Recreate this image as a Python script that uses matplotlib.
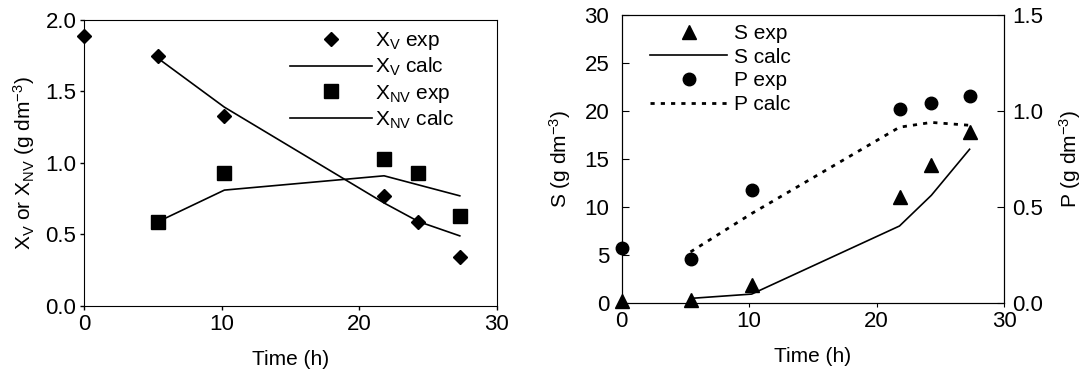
import matplotlib
matplotlib.use("Agg")
import matplotlib.pyplot as plt

plt.rcParams['font.family'] = ['Liberation Sans', 'DejaVu Sans']
plt.rcParams['mathtext.default'] = 'regular'
plt.rcParams['font.size'] = 15

# left panel: viable / non-viable biomass
t_xv_exp = [0, 5.4, 10.2, 21.8, 24.3, 27.3]
xv_exp = [1.89, 1.75, 1.33, 0.77, 0.59, 0.34]
t_xv_calc = [5.4, 10.2, 21.8, 24.3, 27.3]
xv_calc = [1.73, 1.39, 0.72, 0.59, 0.49]
t_xnv_exp = [5.4, 10.2, 21.8, 24.3, 27.3]
xnv_exp = [0.59, 0.93, 1.03, 0.93, 0.63]
t_xnv_calc = [5.4, 10.2, 21.8, 27.3]
xnv_calc = [0.59, 0.81, 0.91, 0.77]

# right panel: substrate and product
t_s_exp = [0, 5.4, 10.2, 21.8, 24.3, 27.3]
s_exp = [0.2, 0.3, 1.8, 11.0, 14.4, 17.8]
t_s_calc = [5.4, 10.2, 21.8, 24.3, 27.3]
s_calc = [0.45, 0.9, 8.0, 11.2, 16.0]
t_p_exp = [0, 5.4, 10.2, 21.8, 24.3, 27.3]
p_exp = [0.285, 0.23, 0.59, 1.01, 1.04, 1.08]
t_p_calc = [5.4, 10.2, 21.8, 24.3, 27.3]
p_calc = [0.265, 0.465, 0.915, 0.94, 0.925]

fig = plt.figure(figsize=(10.82, 3.74), dpi=100)

ax1 = fig.add_axes([0.0776, 0.182, 0.3817, 0.7647])
ax1.plot(t_xv_exp, xv_exp, 'D', color='black', ms=7.5, ls='none',
         label='X$_V$ exp', clip_on=False)
ax1.plot(t_xv_calc, xv_calc, '-', color='black', lw=1.2, label='X$_V$ calc')
ax1.plot(t_xnv_exp, xnv_exp, 's', color='black', ms=9.5, ls='none',
         label='X$_{NV}$ exp', clip_on=False)
ax1.plot(t_xnv_calc, xnv_calc, '-', color='black', lw=1.2, label='X$_{NV}$ calc')
ax1.set_xlim(0, 30)
ax1.set_ylim(0, 2.0)
ax1.set_xticks([0, 10, 20, 30])
ax1.set_yticks([0, 0.5, 1.0, 1.5, 2.0])
ax1.set_yticklabels(['0.0', '0.5', '1.0', '1.5', '2.0'])
ax1.tick_params(direction='out', length=3, width=1, pad=2.5, labelsize=16)
ax1.set_xlabel('Time (h)', fontsize=15, labelpad=11)
ax1.set_ylabel('X$_V$ or X$_{NV}$ (g dm$^{-3}$)', fontsize=15, labelpad=6)
ax1.legend(loc='upper left', frameon=False, handlelength=3.9,
           labelspacing=0.2, handletextpad=0.15, fontsize=15,
           bbox_to_anchor=(0.50, 0.965), borderaxespad=0, borderpad=0)

ax2 = fig.add_axes([0.5746, 0.1906, 0.3533, 0.7693])
ax3 = ax2.twinx()
l1, = ax2.plot(t_s_exp, s_exp, '^', color='black', ms=9.5, ls='none',
               label='S exp', clip_on=False)
l2, = ax2.plot(t_s_calc, s_calc, '-', color='black', lw=1.2, label='S calc')
l3, = ax3.plot(t_p_exp, p_exp, 'o', color='black', ms=9, ls='none',
               label='P exp', clip_on=False)
l4, = ax3.plot(t_p_calc, p_calc, color='black', lw=2, ls=(0, (1.5, 2.2)),
               label='P calc')
ax2.set_xlim(0, 30)
ax2.set_ylim(0, 30)
ax3.set_ylim(0, 1.5)
ax2.set_xticks([0, 10, 20, 30])
ax2.set_yticks([0, 5, 10, 15, 20, 25, 30])
ax3.set_yticks([0, 0.5, 1.0, 1.5])
ax3.set_yticklabels(['0.0', '0.5', '1.0', '1.5'])
ax2.tick_params(axis='x', direction='out', length=3, pad=3, labelsize=16)
ax2.tick_params(axis='y', direction='in', length=5, pad=9, labelsize=16)
ax3.tick_params(axis='y', direction='in', length=5, pad=6, labelsize=16)
ax2.set_xlabel('Time (h)', fontsize=15, labelpad=11)
ax2.set_ylabel('S (g dm$^{-3}$)', fontsize=15, labelpad=8)
ax3.set_ylabel('P (g dm$^{-3}$)', fontsize=15, labelpad=10)
ax2.legend(handles=[l1, l2, l3, l4], loc='upper left', frameon=False,
           handlelength=3.7, labelspacing=0.22, handletextpad=0.35,
           fontsize=15, bbox_to_anchor=(0.074, 0.968), borderaxespad=0,
           borderpad=0)

fig.savefig('out.png', dpi=100)
